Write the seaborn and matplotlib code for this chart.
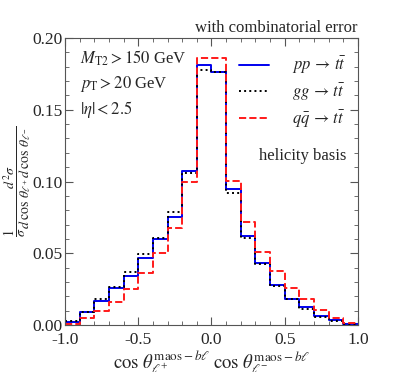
import numpy as np
import pandas as pd
import matplotlib
matplotlib.use("Agg")
import matplotlib.pyplot as plt
import seaborn as sns
from matplotlib.ticker import MultipleLocator, FormatStrFormatter

sns.set_style("ticks")
plt.rcParams.update({
    "font.family": ["Liberation Serif", "DejaVu Serif"],
    "mathtext.fontset": "stix",
    "figure.dpi": 100,
})

# 20 bins of cos(theta_l+) cos(theta_l-) over [-1, 1]
n_bins = 20
bin_centers = np.round(np.linspace(-0.95, 0.95, n_bins), 2)

# normalised distributions
pp_vals = [0.0023, 0.0088, 0.0165, 0.0256, 0.0344, 0.0470, 0.0600, 0.0750, 0.1070, 0.1815,
           0.1766, 0.0947, 0.0620, 0.0430, 0.0280, 0.0180, 0.0123, 0.0065, 0.0035, 0.0007]
gg_vals = [0.0030, 0.0093, 0.0184, 0.0263, 0.0372, 0.0495, 0.0605, 0.0788, 0.1056, 0.1780,
           0.1766, 0.0919, 0.0605, 0.0426, 0.0274, 0.0179, 0.0112, 0.0058, 0.0030, 0.0005]
qq_vals = [0.0010, 0.0050, 0.0100, 0.0163, 0.0253, 0.0360, 0.0500, 0.0674, 0.1000, 0.1860,
           0.1860, 0.1007, 0.0720, 0.0507, 0.0379, 0.0256, 0.0179, 0.0105, 0.0047, 0.0016]

series = [
    (pp_vals, r"$pp\,\rightarrow\,t\bar{t}$", "#0000ee", "-", 1.4),
    (gg_vals, r"$gg\,\rightarrow\,t\bar{t}$", "black", ":", 1.4),
    (qq_vals, r"$q\bar{q}\,\rightarrow\,t\bar{t}$", "#ff1a1a", "--", 1.4),
]

fig = plt.figure(figsize=(3.99, 3.72))
ax = fig.add_axes([0.163, 0.126, 0.734, 0.772])

for vals, label, color, ls, lw in series:
    df = pd.DataFrame({"x": bin_centers, "w": np.asarray(vals, dtype=float)})
    sns.histplot(data=df, x="x", weights="w", bins=n_bins, binrange=(-1.0, 1.0),
                 element="step", fill=False,
                 color=color, linestyle=ls, linewidth=lw, label=label, ax=ax)

ax.set_xlim(-1.0, 1.0)
ax.set_ylim(0.0, 0.20)
ax.xaxis.set_major_locator(MultipleLocator(0.5))
ax.xaxis.set_minor_locator(MultipleLocator(0.1))
ax.yaxis.set_major_locator(MultipleLocator(0.05))
ax.yaxis.set_minor_locator(MultipleLocator(0.01))
ax.xaxis.set_major_formatter(FormatStrFormatter("%.1f"))
ax.yaxis.set_major_formatter(FormatStrFormatter("%.2f"))
ax.tick_params(which="both", top=True, right=True, direction="in", color="#555555",
               labelsize=12.5)
ax.tick_params(axis="x", pad=5)
ax.tick_params(axis="y", pad=2)
ax.tick_params(which="major", length=6)
ax.tick_params(which="minor", length=3)
for s in ax.spines.values():
    s.set_color("#555555")
    s.set_linewidth(0.8)

ax.set_xlabel(r"$\cos\,\theta_{\ell^{+}}^{\mathrm{maos}-b\ell}\;\cos\,\theta_{\ell^{-}}^{\mathrm{maos}-b\ell}$",
              fontsize=13.5)
ax.xaxis.set_label_coords(0.5, -0.08)
ax.set_ylabel(r"$\dfrac{1}{\sigma}\dfrac{d^{2}\sigma}{d\,\cos\,\theta_{\ell^{+}}\,d\,\cos\,\theta_{\ell^{-}}}$",
              fontsize=10)
ax.yaxis.set_label_coords(-0.165, 0.5)
ax.yaxis.label.set_va("center")
ax.set_title("with combinatorial error", loc="right", fontsize=12, pad=4)

ax.text(0.05, 0.93, r"$M_{\mathrm{T2}} > 150$ GeV", transform=ax.transAxes, fontsize=12, va="center")
ax.text(0.05, 0.84, r"$p_{\mathrm{T}} > 20$ GeV", transform=ax.transAxes, fontsize=12, va="center")
ax.text(0.05, 0.75, r"$|\eta| < 2.5$", transform=ax.transAxes, fontsize=12, va="center")

leg = ax.legend(loc="upper right", bbox_to_anchor=(1.0, 0.98), frameon=False, fontsize=12,
                handlelength=1.8, handletextpad=1.4, labelspacing=0.35, borderaxespad=0.3)
ax.text(0.96, 0.59, "helicity basis", transform=ax.transAxes, fontsize=12, ha="right", va="center")

fig.savefig("out.png", dpi=100)
